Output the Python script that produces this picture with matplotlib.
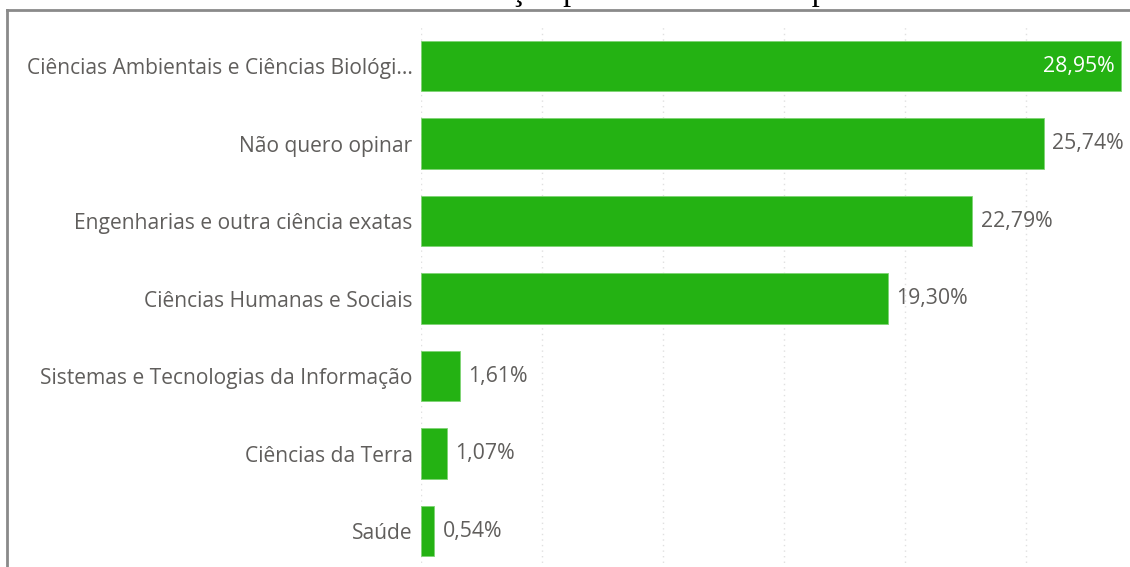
import matplotlib
matplotlib.use("Agg")
import matplotlib.pyplot as plt
from matplotlib.lines import Line2D

categories = [
    "Ciências Ambientais e Ciências Biológi...",
    "Não quero opinar",
    "Engenharias e outra ciência exatas",
    "Ciências Humanas e Sociais",
    "Sistemas e Tecnologias da Informação",
    "Ciências da Terra",
    "Saúde",
]
values = [28.95, 25.74, 22.79, 19.30, 1.61, 1.07, 0.54]
value_labels = ["28,95%", "25,74%", "22,79%", "19,30%", "1,61%", "1,07%", "0,54%"]
title = "Gráfico 8 – Área de atuação profissional dos respondentes."

W, H = 1130, 567
BAR = "#24B213"
TXT = "#605E5C"


def main():
    fig = plt.figure(figsize=(W / 100, H / 100), dpi=100)
    # axes placed in pixel terms of the reference
    left, right = 421 / W, 1125 / W
    top = 1 - 27.25 / H
    bottom = 1 - 569.75 / H
    ax = fig.add_axes([left, bottom, right - left, top - bottom])

    y = list(range(len(categories)))
    ax.barh(y, values, height=0.65, color=BAR, edgecolor="#7fd474", linewidth=0.6)
    ax.set_ylim(len(categories) - 0.5, -0.5)
    ax.set_xlim(0, 29.1)

    ax.set_xticks([0, 5, 10, 15, 20, 25])
    ax.xaxis.grid(True, color="#e0e0e0", linestyle=(0, (1, 3)), linewidth=1)
    ax.set_axisbelow(True)
    ax.tick_params(axis="x", length=0, labelbottom=False)
    ax.tick_params(axis="y", length=0, pad=6)
    ax.set_yticks(y)
    ax.set_yticklabels(categories, fontsize=15.1, color=TXT, fontfamily="Open Sans")
    for s in ax.spines.values():
        s.set_visible(False)

    for i, (v, lab) in enumerate(zip(values, value_labels)):
        if i == 0:
            ax.annotate(lab, (v, i), xytext=(-5, 0), textcoords="offset points",
                        ha="right", va="center", color="white", fontsize=15.3,
                        fontfamily="Open Sans")
        else:
            ax.annotate(lab, (v, i), xytext=(6, 0), textcoords="offset points",
                        ha="left", va="center", color=TXT, fontsize=15.3,
                        fontfamily="Open Sans")

    # grey frame of the report page
    fig.add_artist(Line2D([6.5 / W, 6.5 / W], [0, 1 - 9.5 / H], transform=fig.transFigure,
                          color="#8a8a8a", linewidth=2))
    fig.add_artist(Line2D([6.5 / W, 1], [1 - 9.5 / H, 1 - 9.5 / H], transform=fig.transFigure,
                          color="#8a8a8a", linewidth=2))

    # caption above, mostly cut off by the crop
    fig.text(572 / W, 1.0, title, ha="center", va="baseline",
             fontsize=23, fontfamily="Liberation Serif", color="black")

    fig.savefig("out.png", dpi=100)


if __name__ == "__main__":
    main()
